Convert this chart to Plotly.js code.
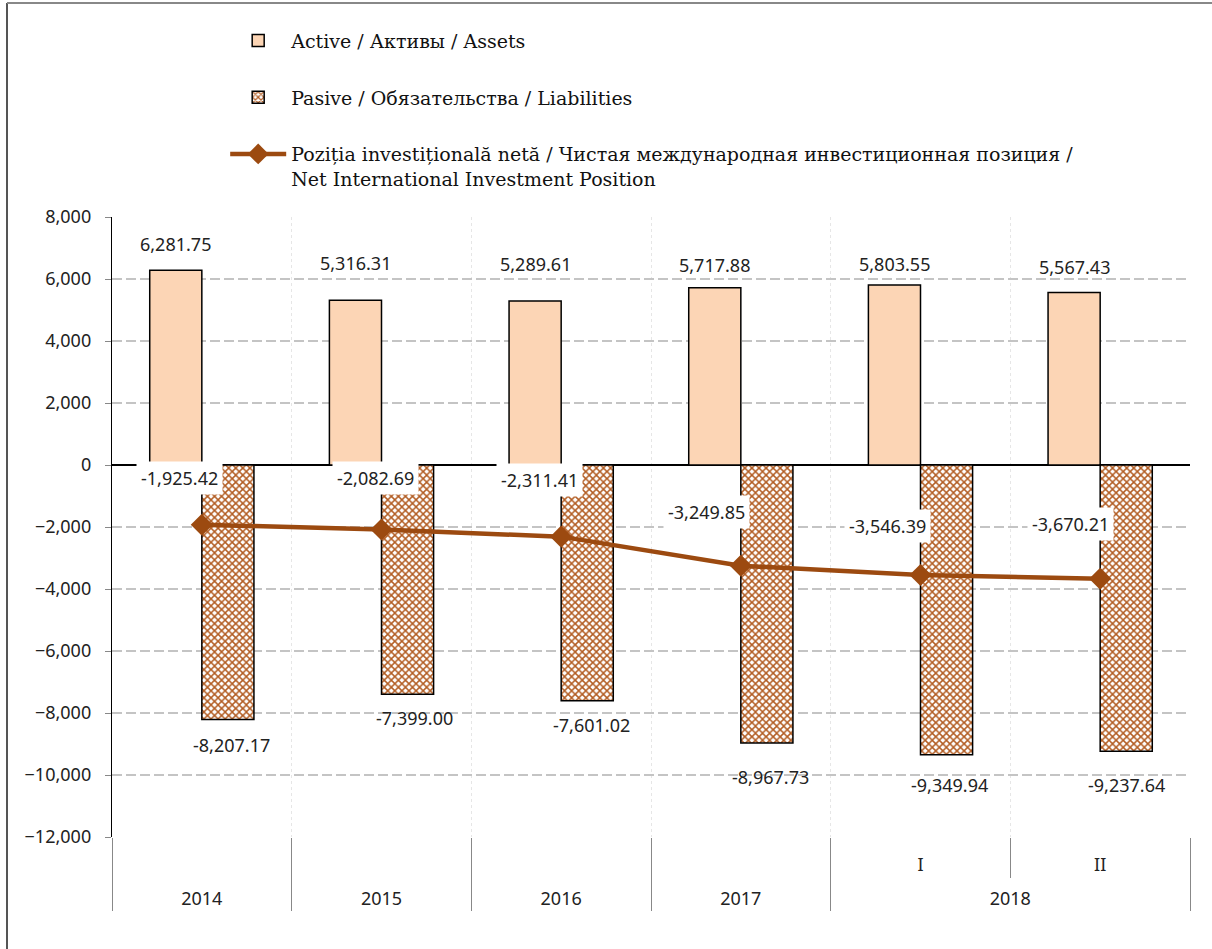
<!DOCTYPE html>
<html><head><meta charset="utf-8">
<script src="https://cdn.plot.ly/plotly-3.0.1.min.js"></script>
<style>html,body{margin:0;padding:0;background:#fff}</style>
</head><body><div id="chart" style="width:1212px;height:949px"></div>
<script>
// ---- data ----
const years = ["2014", "2015", "2016", "2017", "2018", "2018"];
const periods = [" ", " ", " ", " ", "I", "II"];
const assets = [6281.75, 5316.31, 5289.61, 5717.88, 5803.55, 5567.43];
const liabilities = [-8207.17, -7399.00, -7601.02, -8967.73, -9349.94, -9237.64];
const netPosition = [-1925.42, -2082.69, -2311.41, -3249.85, -3546.39, -3670.21];
const seriesNames = [
  "Active / Активы / Assets",
  "Pasive / Обязательства / Liabilities",
  "Poziția investițională netă / Чистая международная инвестиционная позиция /<br>Net International Investment Position"
];
const yTicks = [-12000, -10000, -8000, -6000, -4000, -2000, 0, 2000, 4000, 6000, 8000];

// ---- label placement (pixels) ----
const assetsLabelShift = [26, 37, 37, 23, 21, 25];
const liabLabelShift = [26, 24, 24, 34, 30, 34];
const liabLabelDx = [4, 7, 4, 4, 3, 0];
const netLabelDx = [-22, -6, -22, -34, -33, -30];
const netLabelDy = [47, 52, 57, 54, 49, 55];

const fmt = v => v.toLocaleString('en-US', {minimumFractionDigits: 2, maximumFractionDigits: 2});
const sansFont = "Noto Sans, Open Sans, sans-serif";
// outer labels pushed one line lower (below the I / II row)
const x = [years.map(y => '<br>' + y), periods];

const traces = [
  {
    type: 'bar', name: seriesNames[0], x: x, y: assets, legendgroup: 'a',
    marker: {color: '#FCD5B5', line: {color: '#000', width: 1.5}},
    hoverinfo: 'y'
  },
  {
    type: 'bar', name: seriesNames[1], x: x, y: liabilities, legendgroup: 'b',
    marker: {color: '#ffffff', line: {color: '#000', width: 1.5},
      pattern: {shape: 'x', fgcolor: '#B25C22', bgcolor: '#ffffff', size: 5, solidity: 0.5}},
    hoverinfo: 'y'
  },
  {
    type: 'scatter', mode: 'lines+markers', name: seriesNames[2], x: x, y: netPosition, legendgroup: 'c',
    line: {color: '#9C4A10', width: 4.5},
    marker: {symbol: 'diamond', size: 17, color: '#9C4A10'},
    hoverinfo: 'y'
  }
];

const annotations = [];
for (let i = 0; i < assets.length; i++) {
  annotations.push({x: i, y: assets[i], xref: 'x', yref: 'y', text: fmt(assets[i]), showarrow: false,
    xshift: -26, yshift: assetsLabelShift[i], font: {family: sansFont, size: 18, color: '#222'}});
  annotations.push({x: i, y: liabilities[i], xref: 'x', yref: 'y', text: fmt(liabilities[i]), showarrow: false,
    xshift: 26 + liabLabelDx[i], yshift: -liabLabelShift[i], font: {family: sansFont, size: 18, color: '#222'}});
  annotations.push({x: i, y: netPosition[i], xref: 'x', yref: 'y', text: fmt(netPosition[i]), showarrow: false,
    xshift: netLabelDx[i], yshift: netLabelDy[i], bgcolor: '#ffffff', borderpad: 4,
    font: {family: sansFont, size: 18, color: '#222'}});
}

const layout = {
  width: 1212, height: 949,
  margin: {l: 112, r: 22, t: 217, b: 112},
  paper_bgcolor: '#fff', plot_bgcolor: '#fff',
  barmode: 'group', bargap: 0.42, bargroupgap: 0,
  showlegend: true,
  legend: {
    x: 0.105, y: 1.315, xanchor: 'left', yanchor: 'top',
    font: {family: 'DejaVu Serif, serif', size: 19, color: '#111'},
    itemwidth: 56, tracegroupgap: 29, valign: 'top', traceorder: 'grouped',
    bgcolor: 'rgba(0,0,0,0)'
  },
  xaxis: {
    type: 'multicategory',
    tickson: 'boundaries', ticks: 'outside', ticklen: 40, tickcolor: '#888', tickwidth: 1,
    ticklabelstandoff: 15,
    showdividers: true, dividercolor: '#888', dividerwidth: 1,
    showgrid: true, gridcolor: '#e6e6e6', griddash: 'dot', gridwidth: 1,
    showline: false, zeroline: false,
    tickfont: {family: sansFont, size: 18, color: '#222'}
  },
  yaxis: {
    range: [-12000, 8000], tickvals: yTicks, tickformat: ',d',
    showline: true, linecolor: '#000', linewidth: 1.2,
    ticks: 'outside', ticklen: 6, tickcolor: '#888', ticklabelstandoff: 10,
    showgrid: true, gridcolor: '#c4c4c4', gridwidth: 2, griddash: '10px,4px',
    zeroline: true, zerolinecolor: '#000', zerolinewidth: 1.5,
    tickfont: {family: sansFont, size: 18, color: '#222'}
  },
  annotations: annotations,
  shapes: [
    {type: 'line', xref: 'paper', yref: 'paper', x0: -0.0974, x1: -0.0974, y0: 1.345, y1: -0.19,
      line: {color: '#555', width: 2}},
    {type: 'line', xref: 'paper', yref: 'paper', x0: -0.0974, x1: 1.03, y0: 1.345, y1: 1.345,
      line: {color: '#888', width: 2}}
  ]
};

Plotly.newPlot('chart', traces, layout, {displayModeBar: false, staticPlot: true});
</script></body></html>
